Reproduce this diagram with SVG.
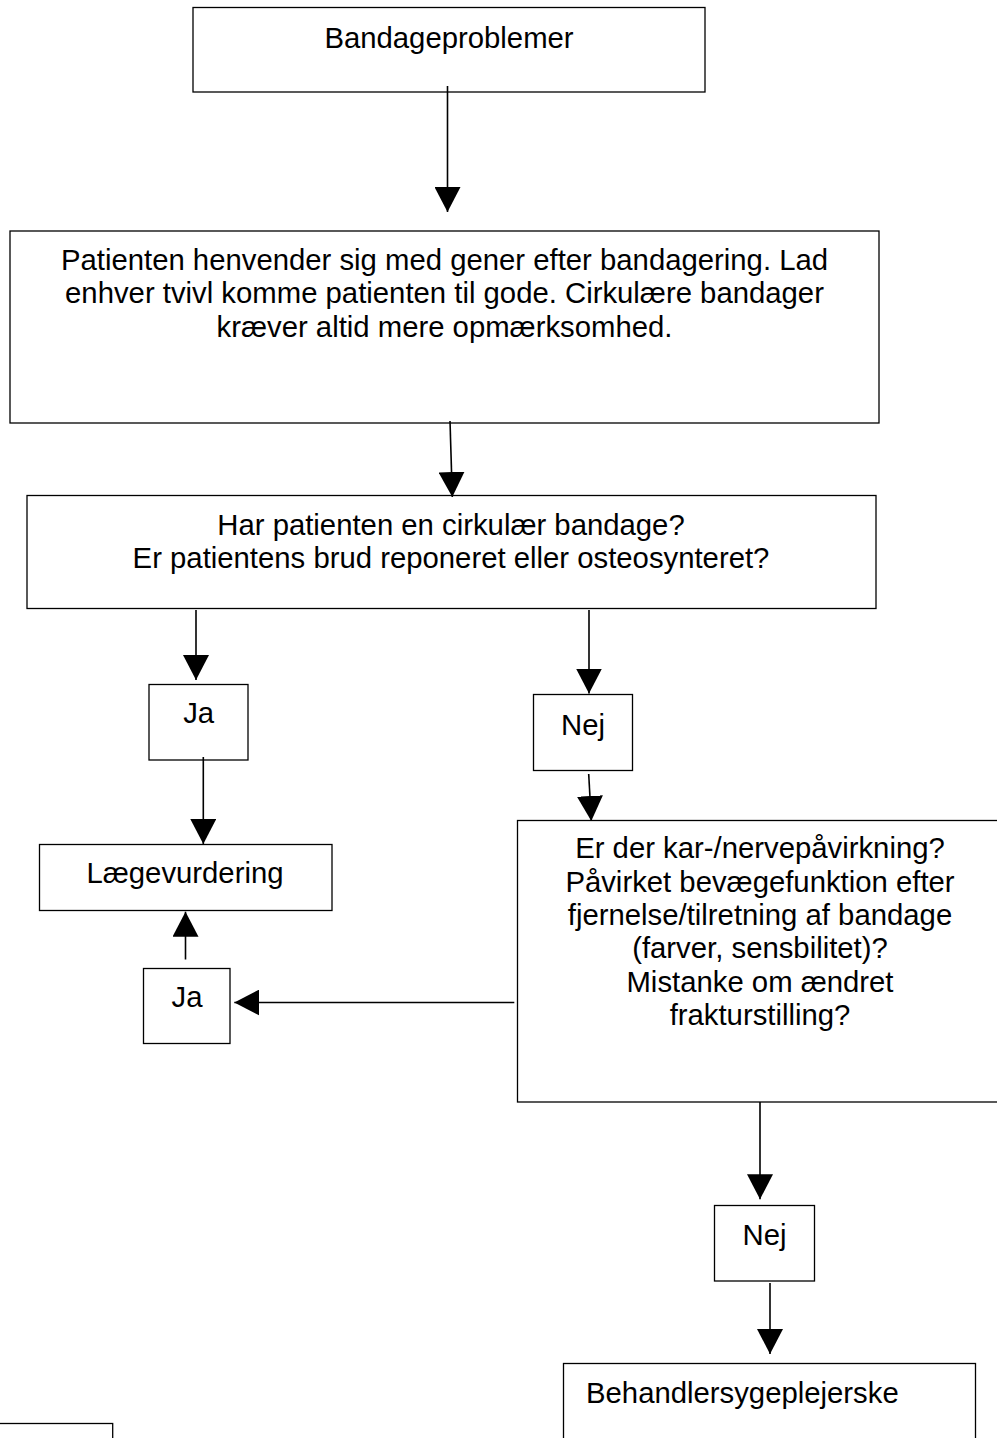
<svg xmlns="http://www.w3.org/2000/svg" width="997" height="1438" viewBox="0 0 997 1438">
<style>
.box{fill:#fff;stroke:#000;stroke-width:1.3}
.t{font-family:"Liberation Sans",Arial,sans-serif;font-size:29.3px;fill:#000}
.c{text-anchor:middle}
.con{stroke:#000;stroke-width:1.6;fill:none;marker-end:url(#ah)}
</style>
<defs>
<marker id="ah" markerUnits="userSpaceOnUse" markerWidth="26" markerHeight="26" refX="25" refY="13" orient="auto">
<path d="M0,0 L25,13 L0,26 Z" fill="#000"/>
</marker>
</defs>
<rect width="997" height="1438" fill="#fff"/>
<g id="n1">
<rect class="box" x="193" y="7.5" width="512" height="84.5"/>
<text class="t c" x="449" y="48">Bandageproblemer</text>
</g>
<g id="n2">
<rect class="box" x="10" y="231" width="869" height="192"/>
<text class="t c" x="444.5" y="270">Patienten henvender sig med gener efter bandagering. Lad</text>
<text class="t c" x="444.5" y="303.3">enhver tvivl komme patienten til gode. Cirkulære bandager</text>
<text class="t c" x="444.5" y="336.7">kræver altid mere opmærksomhed.</text>
</g>
<g id="n3">
<rect class="box" x="27" y="495.5" width="849" height="113"/>
<text class="t c" x="451" y="535">Har patienten en cirkulær bandage?</text>
<text class="t c" x="451" y="568.3">Er patientens brud reponeret eller osteosynteret?</text>
</g>
<g id="n4">
<rect class="box" x="149" y="684.5" width="99" height="75.5"/>
<text class="t c" x="198.7" y="723.3">Ja</text>
</g>
<g id="n5">
<rect class="box" x="533.5" y="694.5" width="99" height="76"/>
<text class="t c" x="583" y="735">Nej</text>
</g>
<g id="n6">
<rect class="box" x="39.5" y="844.5" width="292.5" height="66"/>
<text class="t c" x="185" y="883.3">Lægevurdering</text>
</g>
<g id="n7">
<rect class="box" x="143.5" y="968.5" width="86.5" height="75"/>
<text class="t c" x="187" y="1007.3">Ja</text>
</g>
<g id="n8">
<rect class="box" x="517.5" y="820.5" width="490" height="281.5"/>
<text class="t c" x="760" y="858.3">Er der kar-/nervepåvirkning?</text>
<text class="t c" x="760" y="891.7">Påvirket bevægefunktion efter</text>
<text class="t c" x="760" y="925">fjernelse/tilretning af bandage</text>
<text class="t c" x="760" y="958.3">(farver, sensbilitet)?</text>
<text class="t c" x="760" y="991.7">Mistanke om ændret</text>
<text class="t c" x="760" y="1025">frakturstilling?</text>
</g>
<g id="n9">
<rect class="box" x="714.5" y="1205.5" width="100" height="75.5"/>
<text class="t c" x="764.5" y="1245">Nej</text>
</g>
<g id="n10">
<rect class="box" x="563.5" y="1363.5" width="412" height="100"/>
<text class="t" x="586" y="1402.7">Behandlersygeplejerske</text>
</g>
<g id="n11">
<rect class="box" x="-10" y="1423.5" width="122.7" height="40"/>
</g>
<g id="connectors">
<line class="con" x1="447.5" y1="86" x2="447.5" y2="212"/>
<line class="con" x1="450" y1="421" x2="452.3" y2="497"/>
<line class="con" x1="196" y1="610" x2="196" y2="680"/>
<line class="con" x1="203.3" y1="757" x2="203.3" y2="844"/>
<line class="con" x1="185.5" y1="959.5" x2="185.5" y2="911.7"/>
<line class="con" x1="514.3" y1="1002.5" x2="234.3" y2="1002.5"/>
<line class="con" x1="589" y1="610" x2="589" y2="693.5"/>
<line class="con" x1="588.7" y1="774" x2="591.3" y2="821"/>
<line class="con" x1="760" y1="1102" x2="760" y2="1199.3"/>
<line class="con" x1="770" y1="1283" x2="770" y2="1354"/>
</g>
</svg>
